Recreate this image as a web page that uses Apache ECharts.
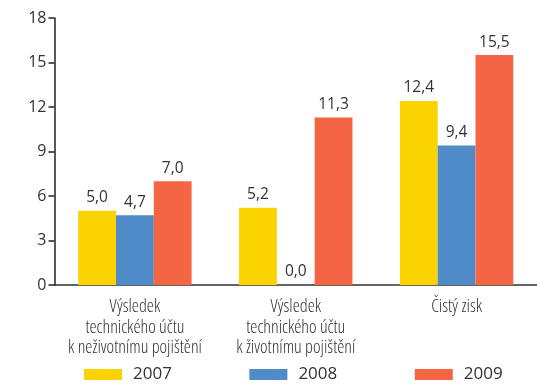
<!DOCTYPE html>
<html>
<head>
<meta charset="utf-8">
<script src="https://cdn.jsdelivr.net/npm/echarts@6/dist/echarts.min.js"></script>
<style>
  html, body { margin: 0; padding: 0; background: #fff; }
  #chart { width: 537px; height: 389px; }
</style>
</head>
<body>
<div id="chart"></div>
<script>
// Categories (x axis)
const categories = [
  'Výsledek\ntechnického účtu\nk neživotnímu pojištění',
  'Výsledek\ntechnického účtu\nk životnímu pojištění',
  'Čistý zisk'
];
// Series values per year
const years = ['2007', '2008', '2009'];
const values2007 = [5.0, 5.2, 12.4];
const values2008 = [4.7, 0.0, 9.4];
const values2009 = [7.0, 11.3, 15.5];
const colors = ['#FAD300', '#4F8BC7', '#F46543'];

const FONT = 'Open Sans';
const TEXT = '#333333';

const fmt = p => p.value.toFixed(1).replace('.', ',');

function barSeries(name, data, color) {
  return {
    name: name,
    type: 'bar',
    data: data,
    barWidth: 37.8,
    barGap: '0%',
    itemStyle: { color: color },
    label: {
      show: true,
      position: 'top',
      distance: 5,
      formatter: fmt,
      fontFamily: FONT,
      fontSize: 15.5,
      color: TEXT
    }
  };
}

const chart = echarts.init(document.getElementById('chart'), null, { renderer: 'canvas' });
chart.setOption({
  animation: false,
  color: colors,
  grid: { left: 54.5, top: 18, width: 487, bottom: 104, containLabel: false },
  legend: {
    data: years,
    left: 84,
    top: 366,
    padding: 0,
    itemWidth: 38,
    itemHeight: 11,
    itemGap: 77.5,
    icon: 'rect',
    textStyle: { fontFamily: FONT, fontSize: 17, color: TEXT, padding: [0, 0, 0, 6] }
  },
  xAxis: {
    type: 'category',
    data: categories,
    axisTick: { show: false },
    axisLine: { show: true, lineStyle: { color: '#333', width: 1.5 } },
    axisLabel: {
      interval: 0,
      margin: 12,
      fontFamily: FONT,
      fontSize: 18,
      // weight + font-stretch keyword passed through the canvas font shorthand
      fontWeight: '300 condensed',
      lineHeight: 20.5,
      color: TEXT,
      align: 'center'
    }
  },
  yAxis: {
    type: 'value',
    min: 0,
    max: 18,
    interval: 3,
    splitLine: { show: false },
    axisLine: { show: true, lineStyle: { color: '#222', width: 1.5 } },
    axisTick: { show: true, inside: false, length: 6, lineStyle: { color: '#222', width: 1.5 } },
    axisLabel: {
      margin: 8,
      fontFamily: FONT,
      fontSize: 16,
      color: TEXT
    }
  },
  series: [
    barSeries(years[0], values2007, colors[0]),
    barSeries(years[1], values2008, colors[1]),
    barSeries(years[2], values2009, colors[2])
  ]
});
</script>
</body>
</html>
